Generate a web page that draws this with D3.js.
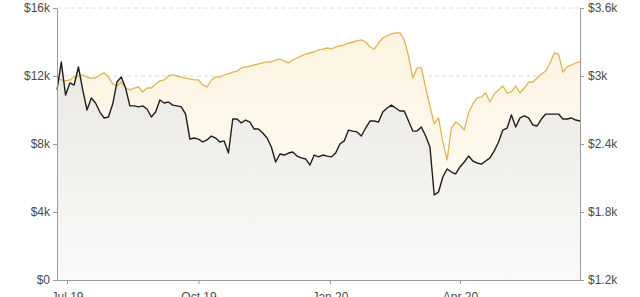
<!DOCTYPE html>
<html>
<head>
<meta charset="utf-8">
<script src="https://cdn.jsdelivr.net/npm/d3@7"></script>
<style>
  body { margin: 0; background: #fff; }
  svg { display: block; font-family: "Liberation Sans", Arial, sans-serif; }
  .axis text { fill: #4a4a4a; font-size: 12px; }
  .axis path, .axis line { stroke: #9a9a9a; }
</style>
</head>
<body>
<div id="chart"></div>
<script>
// dates, every 3 days
const dates = [
  "2019-06-24","2019-06-27","2019-06-30","2019-07-03","2019-07-06","2019-07-09","2019-07-12","2019-07-15","2019-07-18","2019-07-21",
  "2019-07-24","2019-07-27","2019-07-30","2019-08-02","2019-08-05","2019-08-08","2019-08-11","2019-08-14","2019-08-17","2019-08-20",
  "2019-08-23","2019-08-26","2019-08-29","2019-09-01","2019-09-04","2019-09-07","2019-09-10","2019-09-13","2019-09-16","2019-09-19",
  "2019-09-22","2019-09-25","2019-09-28","2019-10-01","2019-10-04","2019-10-07","2019-10-10","2019-10-13","2019-10-16","2019-10-19",
  "2019-10-22","2019-10-25","2019-10-28","2019-10-31","2019-11-03","2019-11-06","2019-11-09","2019-11-12","2019-11-15","2019-11-18",
  "2019-11-21","2019-11-24","2019-11-27","2019-11-30","2019-12-03","2019-12-06","2019-12-09","2019-12-12","2019-12-15","2019-12-18",
  "2019-12-21","2019-12-24","2019-12-27","2019-12-30","2020-01-02","2020-01-05","2020-01-08","2020-01-11","2020-01-14","2020-01-17",
  "2020-01-20","2020-01-23","2020-01-26","2020-01-29","2020-02-01","2020-02-04","2020-02-07","2020-02-10","2020-02-13","2020-02-16",
  "2020-02-19","2020-02-22","2020-02-25","2020-02-28","2020-03-02","2020-03-05","2020-03-08","2020-03-11","2020-03-14","2020-03-17",
  "2020-03-20","2020-03-23","2020-03-26","2020-03-29","2020-04-01","2020-04-04","2020-04-07","2020-04-10","2020-04-13","2020-04-16",
  "2020-04-19","2020-04-22","2020-04-25","2020-04-28","2020-05-01","2020-05-04","2020-05-07","2020-05-10","2020-05-13","2020-05-16",
  "2020-05-19","2020-05-22","2020-05-25","2020-05-28","2020-05-31","2020-06-03","2020-06-06","2020-06-09","2020-06-12","2020-06-15",
  "2020-06-18","2020-06-21","2020-06-24"
];

// Bitcoin price (left axis)
const bitcoin = [
  11180,12820,10880,11590,11470,12530,11180,10000,10710,10410,
  9880,9530,9590,10350,11650,11940,11290,10240,10240,10180,
  10240,10060,9590,9880,10590,10410,10470,10290,10240,10180,
  9760,8290,8350,8290,8120,8240,8470,8350,8120,8180,
  7470,9470,9470,9240,9410,9290,8880,8880,8650,8350,
  7820,6940,7410,7350,7470,7530,7290,7180,7120,6760,
  7350,7240,7350,7290,7240,7470,8000,8180,8820,8760,
  8710,8470,8940,9350,9350,9290,9880,10120,10290,10120,
  9940,9940,9350,8760,8760,9000,8470,7820,5000,5180,
  6060,6530,6350,6240,6650,6940,7290,7000,6880,6820,
  7000,7180,7590,8120,8820,8940,9710,9000,9530,9650,
  9530,9120,9060,9470,9760,9760,9760,9760,9470,9470,
  9530,9410,9350
];

// S&P 500 (right axis)
const sp500 = [
  2991,2965,2956,2965,2991,3000,3009,2991,2982,2982,
  3009,3027,2991,2930,2912,2947,2894,2877,2894,2903,
  2859,2894,2894,2930,2956,2965,3000,3009,3000,2991,
  2982,2974,2965,2965,2921,2903,2965,2991,2991,3009,
  3018,3035,3044,3071,3080,3088,3097,3106,3115,3124,
  3124,3141,3150,3132,3115,3141,3159,3177,3194,3203,
  3212,3230,3238,3247,3238,3256,3265,3274,3291,3300,
  3309,3318,3300,3256,3238,3291,3335,3353,3371,3380,
  3380,3318,3177,2982,3071,3071,2894,2735,2577,2630,
  2418,2259,2541,2594,2568,2524,2674,2753,2806,2815,
  2850,2771,2841,2877,2912,2850,2859,2912,2850,2894,
  2947,2947,2982,3018,3044,3115,3203,3194,3035,3080,
  3097,3115,3124
];

const leftTicks = [0, 4000, 8000, 12000, 16000];
const rightTicks = [1200, 1800, 2400, 3000, 3600];
const xTicks = ["2019-07-01", "2019-10-01", "2020-01-01", "2020-04-01"];

const W = 640, H = 297;
const margin = { top: 8, right: 60, bottom: 17, left: 57 };

const parse = d3.timeParse("%Y-%m-%d");
const data = dates.map((d, i) => ({ date: parse(d), btc: bitcoin[i], sp: sp500[i] }));

const svg = d3.select("#chart").append("svg")
  .attr("width", W)
  .attr("height", H);

const x = d3.scaleTime()
  .domain(d3.extent(data, d => d.date))
  .range([margin.left, W - margin.right]);

const yL = d3.scaleLinear().domain([0, 16000]).range([H - margin.bottom, margin.top]);
const yR = d3.scaleLinear().domain([1200, 3600]).range([H - margin.bottom, margin.top]);

const fmt = v => v === 0 ? "$0" : "$" + (v / 1000) + "k";

// gradients
const defs = svg.append("defs");
const gGold = defs.append("linearGradient")
  .attr("id", "goldFill").attr("gradientUnits", "userSpaceOnUse")
  .attr("x1", 0).attr("x2", 0).attr("y1", margin.top).attr("y2", H - margin.bottom);
gGold.append("stop").attr("offset", "0%").attr("stop-color", "#fcf3de");
gGold.append("stop").attr("offset", "100%").attr("stop-color", "#fdfcf8");

const gGray = defs.append("linearGradient")
  .attr("id", "grayFill").attr("gradientUnits", "userSpaceOnUse")
  .attr("x1", 0).attr("x2", 0).attr("y1", margin.top).attr("y2", H - margin.bottom);
gGray.append("stop").attr("offset", "0%").attr("stop-color", "#e7e4df");
gGray.append("stop").attr("offset", "100%").attr("stop-color", "#faf9f7");

// gridlines
svg.append("g")
  .selectAll("line")
  .data(leftTicks.filter(d => d > 0))
  .join("line")
  .attr("x1", margin.left).attr("x2", W - margin.right)
  .attr("y1", d => yL(d)).attr("y2", d => yL(d))
  .attr("stroke", "#dcdcdc")
  .attr("stroke-dasharray", "4,3");

// areas
svg.append("path")
  .datum(data)
  .attr("fill", "url(#goldFill)")
  .attr("d", d3.area().x(d => x(d.date)).y0(yR(1200)).y1(d => yR(d.sp)));

svg.append("path")
  .datum(data)
  .attr("fill", "url(#grayFill)")
  .attr("d", d3.area().x(d => x(d.date)).y0(yL(0)).y1(d => yL(d.btc)));

// lines
svg.append("path")
  .datum(data)
  .attr("fill", "none")
  .attr("stroke", "#e2b44a")
  .attr("stroke-width", 1.3)
  .attr("stroke-linejoin", "round")
  .attr("d", d3.line().x(d => x(d.date)).y(d => yR(d.sp)));

svg.append("path")
  .datum(data)
  .attr("fill", "none")
  .attr("stroke", "#1e1e1e")
  .attr("stroke-width", 1.4)
  .attr("stroke-linejoin", "round")
  .attr("d", d3.line().x(d => x(d.date)).y(d => yL(d.btc)));

// axes
svg.append("g")
  .attr("class", "axis")
  .attr("transform", `translate(${margin.left},0)`)
  .call(d3.axisLeft(yL).tickValues(leftTicks).tickFormat(fmt).tickSize(4).tickPadding(3).tickSizeOuter(0));

svg.append("g")
  .attr("class", "axis")
  .attr("transform", `translate(${W - margin.right},0)`)
  .call(d3.axisRight(yR).tickValues(rightTicks).tickFormat(fmt).tickSize(4).tickPadding(4).tickSizeOuter(0));

svg.append("g")
  .attr("class", "axis")
  .attr("transform", `translate(0,${H - margin.bottom})`)
  .call(d3.axisBottom(x).tickValues(xTicks.map(parse)).tickFormat(d3.timeFormat("%b %y")).tickSize(4).tickPadding(8).tickSizeOuter(0));
</script>
</body>
</html>
